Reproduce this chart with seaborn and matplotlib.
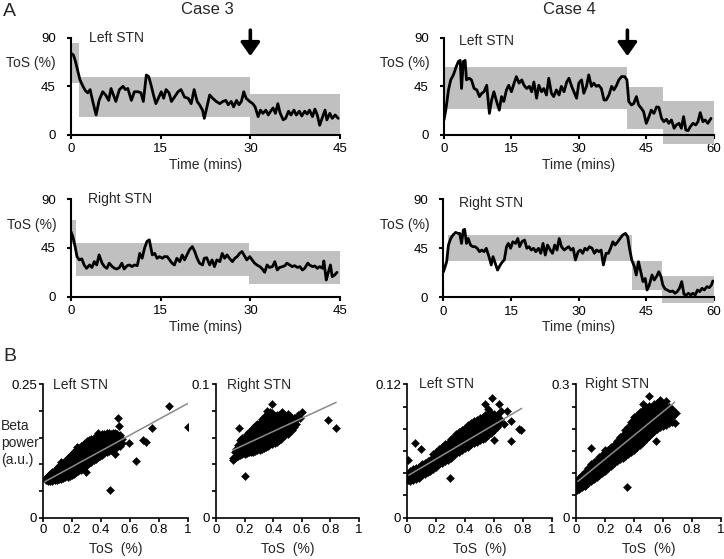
import numpy as np
import pandas as pd
import matplotlib
matplotlib.use("Agg")
import matplotlib.pyplot as plt
import seaborn as sns

# ---------------------------------------------------------------------------
# Panel A data: ToS (%) over time (mins)
# ---------------------------------------------------------------------------
c3_left_t = [0.0, 0.4, 0.7, 1.1, 1.5, 2.0, 2.4, 2.8, 3.2, 3.6,
             4.2, 4.7, 5.3, 5.8, 6.3, 6.7, 7.1, 7.5, 8.1, 8.7,
             9.1, 9.5, 10.1, 10.6, 11.2, 11.7, 12.1, 12.6, 13.0, 13.4,
             13.8, 14.2, 14.7, 15.1, 15.5, 15.9, 16.4, 16.8, 17.3, 17.9,
             18.4, 19.0, 19.6, 20.1, 20.6, 21.1, 21.5, 22.0, 22.3, 22.7,
             23.2, 23.7, 24.3, 24.9, 25.4, 25.9, 26.3, 26.8, 27.2, 27.7,
             28.1, 28.5, 28.9, 29.3, 29.9, 30.4, 30.8, 31.3, 31.7, 32.1,
             32.6, 33.0, 33.4, 33.8, 34.2, 34.6, 35.0, 35.5, 35.9, 36.4,
             36.8, 37.3, 37.7, 38.2, 38.6, 39.1, 39.5, 39.9, 40.4, 40.8,
             41.2, 41.6, 42.1, 42.5, 42.8, 43.3, 43.7, 44.2, 44.7]
c3_left_tos = [75.6, 74, 69, 60, 51, 45, 41, 39, 42, 32,
               18.5, 32, 40, 37, 32, 43, 37, 31, 42, 45,
               42, 43, 32, 40, 40, 39, 31, 55.5, 54, 46,
               37, 29, 35, 40, 34, 42, 39, 31, 35, 40,
               42, 35, 34, 29, 42, 31, 28, 23, 15.4, 25,
               37, 34, 31, 29, 31, 32, 28, 31, 26, 32,
               28, 31, 40, 34, 31, 29, 26, 17, 23, 20,
               23, 18.5, 22, 25, 20, 29, 20, 14, 15.4, 22,
               18.5, 23, 18.5, 22, 17.6, 22, 19.4, 23, 17, 24,
               18.5, 9, 17, 23, 14, 20, 15.4, 18.5, 15.4]
c3_left_epochs = [(0, 1.4, 48, 85), (1.4, 30, 16.4, 53.4), (30, 45, 0, 38)]

c3_right_t = [0.0, 0.3, 0.7, 1.0, 1.4, 1.8, 2.2, 2.6, 3.1, 3.5,
              3.9, 4.3, 4.7, 5.2, 5.6, 6.0, 6.4, 6.9, 7.3, 7.7,
              8.1, 8.5, 8.9, 9.4, 9.8, 10.2, 10.6, 11.1, 11.5, 11.9,
              12.3, 12.7, 13.1, 13.6, 14.0, 14.4, 14.8, 15.3, 15.6, 16.1,
              16.5, 16.9, 17.3, 17.7, 18.2, 18.6, 19.0, 19.4, 19.8, 20.3,
              20.7, 21.1, 21.5, 22.0, 22.3, 22.7, 23.2, 23.6, 24.0, 24.4,
              24.9, 25.3, 25.7, 26.1, 26.5, 27.0, 27.4, 27.8, 28.2, 28.6,
              29.1, 29.4, 29.9, 30.3, 30.7, 31.1, 31.6, 32.0, 32.4, 32.8,
              33.2, 33.7, 34.1, 34.5, 34.9, 35.4, 35.8, 36.1, 36.6, 37.0,
              37.4, 37.9, 38.3, 38.7, 39.1, 39.6, 39.9, 40.4, 40.8, 41.2,
              41.6, 42.1, 42.3, 42.7, 43.0, 43.4, 43.7, 44.1, 44.5]
c3_right_tos = [60, 55.6, 46, 37, 34, 35, 29.3, 26.2, 29.3, 27,
                32.4, 29.3, 38.6, 31, 27.8, 26.2, 31, 27.8, 26.2, 25.6,
                27, 31, 25.6, 28.7, 29.3, 27.8, 29.3, 28.7, 40, 35.5,
                44.8, 51, 52.5, 38.6, 40, 35.5, 37, 35.5, 37, 37,
                34, 31, 29.3, 35.5, 32.4, 38.6, 34, 38.6, 43.2, 46.3,
                41.7, 35.5, 31, 29.3, 35.5, 36, 29.3, 34, 27.8, 34,
                32.4, 40, 35.5, 38.6, 35.5, 32.4, 35.5, 37, 40, 41.7,
                37, 34, 37, 34, 31, 29.3, 27.8, 25.6, 22.5, 29.3,
                27, 27.8, 32.4, 24.7, 27, 27.8, 28.7, 31, 29.3, 27.8,
                28.7, 27, 27.8, 24.7, 26.2, 31, 29.3, 27.8, 28.4, 26.2,
                27.8, 26.2, 33, 15.4, 21.6, 29.3, 18.5, 20, 22.5]
c3_right_epochs = [(0, 0.8, 49, 71), (0.8, 29.8, 19.1, 49.3), (29.8, 45, 11.7, 42.5)]

c4_left_t = [0.0, 0.4, 1.0, 1.5, 2.1, 2.7, 3.2, 3.6, 3.9, 4.3,
             4.7, 5.0, 5.6, 6.1, 6.7, 7.3, 7.9, 8.4, 8.9, 9.5,
             10.1, 10.6, 11.1, 11.7, 12.3, 12.8, 13.3, 13.9, 14.4, 15.0,
             15.6, 16.1, 16.7, 17.3, 17.8, 18.4, 19.0, 19.5, 20.0, 20.6,
             21.1, 21.7, 22.2, 22.8, 23.3, 23.9, 24.4, 25.0, 25.6, 26.1,
             26.7, 27.3, 27.8, 28.4, 28.9, 29.5, 30.0, 30.6, 31.1, 31.7,
             32.2, 32.8, 33.3, 33.9, 34.4, 35.0, 35.6, 36.1, 36.7, 37.3,
             37.8, 38.4, 38.9, 39.5, 40.2, 40.7, 41.1, 41.7, 42.2, 42.8,
             43.3, 43.9, 44.4, 45.0, 45.6, 46.1, 46.7, 47.3, 47.8, 48.4,
             48.9, 49.5, 50.0, 50.6, 51.2, 51.7, 52.3, 52.8, 53.3, 53.8,
             54.3, 54.8, 55.4, 56.0, 56.5, 57.0, 57.6, 58.1, 58.7, 59.4]
c4_left_tos = [13.9, 23, 41.7, 51, 55.6, 63, 68, 69, 43, 68,
               69, 51, 52.5, 51, 43, 41.7, 35.5, 38.6, 40, 46,
               20, 32.4, 40, 31, 23, 35.5, 31, 41.7, 46, 40,
               48, 54, 48, 51, 46, 43, 45, 40, 49, 34,
               46, 40, 43, 37, 52.5, 38.6, 35.5, 41.7, 37, 45,
               40, 49, 52.5, 45, 40, 34, 48, 51, 38.6, 45,
               55.6, 45, 48, 45, 46, 43, 32.4, 32.4, 37, 45,
               41.7, 46, 51, 54, 54, 51, 31, 27.8, 29, 35.5,
               27.8, 24.7, 21.6, 10.8, 17, 23, 20, 26, 25.6, 15.4,
               12.3, 14.5, 10.8, 13.9, 6.2, 9.3, 10.8, 6.2, 17, 4.6,
               4, 7.7, 10.8, 9.3, 12.3, 20.7, 12.3, 13.9, 10.8, 15.4]
c4_left_epochs = [(0, 40.8, 24, 63), (40.8, 48.7, 5.5, 44.7), (48.7, 60, -8.3, 31.7)]

c4_right_t = [0.0, 0.7, 1.1, 1.6, 2.1, 2.7, 3.2, 3.6, 4.0, 4.4,
              4.7, 5.1, 5.5, 6.0, 6.5, 7.0, 7.5, 8.0, 8.5, 9.0,
              9.5, 10.1, 10.6, 11.0, 11.5, 12.0, 12.6, 13.1, 13.5, 14.0,
              14.4, 14.9, 15.4, 16.0, 16.5, 16.9, 17.4, 18.0, 18.5, 19.0,
              19.5, 20.0, 20.5, 21.1, 21.6, 22.1, 22.6, 23.1, 23.7, 24.2,
              24.7, 25.2, 25.7, 26.2, 26.8, 27.3, 27.8, 28.3, 28.8, 29.3,
              29.9, 30.4, 30.9, 31.4, 31.9, 32.4, 33.0, 33.5, 34.0, 34.5,
              35.0, 35.5, 36.1, 36.6, 37.1, 37.6, 38.1, 38.7, 39.2, 39.8,
              40.4, 40.9, 41.3, 41.8, 42.4, 42.8, 43.3, 43.8, 44.3, 44.8,
              45.2, 45.7, 46.3, 46.8, 47.3, 47.8, 48.3, 48.7, 49.2, 49.7,
              50.3, 50.9, 51.4, 51.9, 52.4, 52.9, 53.4, 53.9, 54.4, 54.9,
              55.4, 55.9, 56.4, 56.9, 57.4, 57.9, 58.5, 59.0, 59.5, 59.8]
c4_right_tos = [23.5, 32.7, 48, 54, 57.2, 59.6, 58.7, 58.7, 49.5, 61.8,
                62.4, 49.5, 54, 48, 46.5, 46.5, 45, 41.9, 43.4, 41.9,
                45, 37.3, 29.7, 37.3, 31.2, 25, 29.7, 32.7, 34.3, 46.5,
                49.5, 45, 51, 49.5, 54, 46.5, 51, 52.6, 45, 46.5,
                43.4, 45, 41.9, 45, 40.4, 49.5, 38.8, 48, 43.4, 40.4,
                48, 43.4, 54, 46.5, 43.4, 45, 46.5, 43.4, 45, 34.3,
                41.9, 43.4, 40.4, 45, 43.4, 46.5, 45, 40.4, 43.4, 41.9,
                43.4, 29.7, 40.4, 40.4, 45, 51, 48, 51, 54, 57.2,
                58.7, 55.7, 45, 34.3, 28.1, 20.5, 32.7, 23.5, 14.4, 17.4,
                6.7, 11.3, 20.5, 15.9, 19, 23.5, 19, 11.3, 7.6, 6.7,
                5.2, 5.8, 3.7, 5.2, 8.3, 14.4, 2.8, 2.1, 3.7, 2.1,
                3.7, 2.1, 6.7, 5.2, 8.3, 6.7, 9.8, 8.9, 11.3, 15]
c4_right_epochs = [(1.0, 41.9, 32.9, 57.4), (41.9, 48.6, 7.0, 32.9), (48.6, 60, -5.5, 19.7)]

# time of the arrow marker in each case (mins)
c3_arrow_t = 30
c4_arrow_t = 40.8

# ---------------------------------------------------------------------------
# Panel B data: beta power vs ToS, read column by column off the clouds
# ---------------------------------------------------------------------------
c3l_tos = [0.018, 0.033, 0.048, 0.063, 0.078, 0.093, 0.108, 0.123, 0.138, 0.153,
           0.168, 0.183, 0.198, 0.213, 0.228, 0.243, 0.258, 0.273, 0.288, 0.303,
           0.318, 0.333, 0.348, 0.363, 0.378, 0.393, 0.408, 0.423, 0.438, 0.453,
           0.468, 0.483, 0.498, 0.513, 0.528, 0.543]
c3l_beta = [[.070, .075], [.068, .074, .079], [.068, .075, .082], [.069, .077, .085],
            [.070, .078, .087], [.071, .080, .089, .093], [.072, .081, .090, .097],
            [.073, .082, .091, .100], [.075, .084, .093, .103], [.076, .086, .095, .106],
            [.077, .087, .097, .108, .112], [.078, .088, .098, .109, .116],
            [.080, .090, .100, .111, .120], [.082, .092, .103, .114, .124],
            [.085, .095, .106, .117, .127], [.088, .098, .109, .120, .131],
            [.090, .100, .111, .123, .134], [.093, .103, .114, .126, .137],
            [.096, .106, .117, .129, .140], [.099, .109, .120, .132, .143],
            [.102, .112, .123, .135, .145], [.105, .115, .126, .138, .147],
            [.108, .118, .129, .140, .149], [.110, .120, .131, .142, .151],
            [.113, .123, .134, .144, .153], [.116, .126, .137, .147, .154],
            [.118, .128, .139, .149, .156], [.121, .131, .142, .151, .157],
            [.123, .133, .144, .153, .159], [.125, .136, .146, .155, .159],
            [.127, .138, .148, .157], [.129, .140, .150, .159], [.130, .141, .151, .158],
            [.132, .143, .153, .157], [.134, .145, .155], [.140, .148]]
c3l_extra = [(.462, .0525), (.296, .085), (.497, .119), (.515, .186), (.527, .171),
             (.594, .140), (.642, .107), (.688, .146), (.711, .142), (.750, .169),
             (.873, .209), (1.0, .170), (.120, .104), (.230, .132), (.380, .158)]
c3l_fit = (0.066, 0.148, 0.01, 1.0)   # intercept, slope, x from, x to

c3r_tos = [0.120, 0.130, 0.140, 0.155, 0.170, 0.185, 0.200, 0.215, 0.230, 0.245,
           0.260, 0.275, 0.290, 0.305, 0.320, 0.335, 0.350, 0.365, 0.380, 0.395,
           0.410, 0.425, 0.440, 0.455, 0.470, 0.485, 0.500, 0.515, 0.530, 0.545, 0.560]
c3r_beta = [[.0435, .0445], [.045, .049], [.046, .050, .0515], [.0465, .0505, .0545],
            [.047, .051, .055, .058], [.0475, .0515, .0555, .0595], [.048, .052, .056, .060],
            [.0485, .0525, .0565, .0605, .0625], [.049, .053, .057, .061, .064],
            [.049, .053, .057, .061, .065], [.0495, .0535, .0575, .0615, .0655, .067],
            [.050, .054, .058, .062, .066, .069], [.0505, .0545, .0585, .0625, .0665, .0705],
            [.051, .055, .059, .063, .067, .071], [.0515, .0555, .0595, .0635, .0675, .0715, .074],
            [.052, .056, .060, .064, .068, .072, .075], [.053, .057, .061, .065, .069, .073, .077],
            [.054, .058, .062, .066, .070, .074, .078], [.055, .059, .063, .067, .071, .075, .079],
            [.0555, .0595, .0635, .0675, .0715, .0755, .0785], [.056, .060, .064, .068, .072, .076],
            [.057, .061, .065, .069, .073, .077], [.058, .062, .066, .070, .074, .077],
            [.059, .063, .067, .071, .075], [.061, .065, .069, .073, .077],
            [.062, .066, .070, .074], [.063, .067, .071, .075], [.065, .069, .073, .076],
            [.066, .070, .074], [.068, .072, .075], [.070, .074]]
c3r_extra = [(.203, .031), (.163, .067), (.389, .085), (.354, .080), (.460, .079),
             (.506, .078), (.570, .077), (.600, .079), (.590, .075), (.786, .073), (.840, .067)]
c3r_fit = (0.0448, 0.0496, 0.12, 0.84)

c4l_tos = [0.005, 0.02, 0.04, 0.06, 0.08, 0.10, 0.12, 0.14, 0.16, 0.18,
           0.20, 0.22, 0.24, 0.26, 0.28, 0.30, 0.32, 0.34, 0.36, 0.38,
           0.40, 0.42, 0.44, 0.46, 0.48, 0.50, 0.52, 0.54, 0.56, 0.58,
           0.60, 0.62, 0.64]
c4l_beta = [[.034, .039], [.033, .037, .042], [.034, .039, .044], [.035, .040, .045],
            [.036, .041, .046], [.038, .043, .048], [.039, .044, .049], [.041, .046, .051],
            [.042, .047, .052], [.044, .049, .054, .057], [.046, .051, .056, .059],
            [.048, .053, .058, .062], [.049, .054, .059, .064], [.051, .056, .061, .066],
            [.052, .057, .062, .067], [.054, .059, .064, .069, .071],
            [.056, .061, .066, .071, .073], [.058, .063, .068, .073, .075],
            [.059, .064, .069, .074, .077], [.061, .066, .071, .076, .079],
            [.063, .068, .073, .078, .081], [.064, .069, .074, .079, .083],
            [.066, .071, .076, .081, .085], [.067, .072, .077, .082, .087],
            [.068, .073, .078, .083, .088], [.070, .075, .080, .085, .090],
            [.071, .076, .081, .086, .091], [.072, .077, .082, .087, .092],
            [.074, .079, .084, .089, .093], [.076, .081, .086, .091, .094],
            [.079, .084, .089, .093], [.082, .087, .092], [.085, .089]]
c4l_extra = [(.005, .052), (.051, .067), (.092, .062), (.293, .0357), (.537, .102),
             (.587, .108), (.634, .102), (.691, .096), (.714, .087), (.783, .079),
             (.775, .080), (.600, .070), (.668, .084), (.720, .069), (.650, .096), (.560, .098)]
c4l_fit = (0.0375, 0.077, 0.01, 0.79)

c4r_tos = [0.005, 0.02, 0.04, 0.06, 0.08, 0.10, 0.12, 0.14, 0.16, 0.18,
           0.20, 0.22, 0.24, 0.26, 0.28, 0.30, 0.32, 0.34, 0.36, 0.38,
           0.40, 0.42, 0.44, 0.46, 0.48, 0.50, 0.52, 0.54, 0.56, 0.58,
           0.60, 0.62, 0.64, 0.66]
c4r_beta = [[.063, .072, .080], [.064, .073, .083, .090], [.068, .077, .087, .095],
            [.072, .082, .092, .102], [.077, .087, .097, .107, .112],
            [.082, .092, .102, .112, .120], [.087, .097, .107, .117, .126],
            [.091, .101, .111, .121, .130], [.096, .106, .116, .126, .136],
            [.101, .111, .121, .131, .141], [.106, .116, .126, .136, .146],
            [.111, .121, .131, .141, .152], [.116, .126, .136, .146, .158],
            [.122, .132, .142, .152, .164], [.127, .137, .147, .157, .167, .172],
            [.131, .141, .151, .161, .171, .181], [.135, .145, .155, .165, .175, .187],
            [.139, .149, .159, .169, .179, .189, .198],
            [.143, .153, .163, .173, .183, .193, .205],
            [.148, .158, .168, .178, .188, .198, .208, .216],
            [.153, .163, .173, .183, .193, .203, .213, .226],
            [.158, .168, .178, .188, .198, .208, .218, .232],
            [.164, .174, .184, .194, .204, .214, .224, .238],
            [.170, .180, .190, .200, .210, .220, .230, .243],
            [.177, .187, .197, .207, .217, .227, .237, .248],
            [.183, .193, .203, .213, .223, .233, .243, .251],
            [.190, .200, .210, .220, .230, .240, .250],
            [.195, .205, .215, .225, .235, .245, .255],
            [.199, .209, .219, .229, .239, .249, .257],
            [.203, .213, .223, .233, .243, .253], [.207, .217, .227, .237, .247, .255],
            [.209, .219, .229, .239, .249], [.212, .222, .232, .242, .250],
            [.216, .226, .236, .244]]
c4r_extra = [(.100, .157), (.348, .069), (.502, .273), (.198, .153), (.548, .172),
             (.680, .213), (.690, .235), (.620, .262), (.580, .265), (.460, .255)]
c4r_fit = (0.079, 0.266, 0.01, 0.68)

# ---------------------------------------------------------------------------
# Style
# ---------------------------------------------------------------------------
sns.set_style("ticks")
plt.rcParams["font.family"] = ["Liberation Sans", "DejaVu Sans"]
plt.rcParams["axes.edgecolor"] = "black"
plt.rcParams["xtick.color"] = "black"
plt.rcParams["ytick.color"] = "black"

_W, _H = 724, 559
_BOX = "#c0c0c0"
_FIT = "#8a8a8a"

fig = plt.figure(figsize=(_W / 100, _H / 100), dpi=100)


def px_axes(x0, x1, ytop, ybot):
    """Axes placed by pixel edges (top-left origin)."""
    return fig.add_axes([x0 / _W, 1 - ybot / _H, (x1 - x0) / _W, (ybot - ytop) / _H])


def px_text(x, y, s, size=10, ha="left", **kw):
    fig.text(x / _W, 1 - y / _H, s, fontsize=size, ha=ha, va="center", **kw)


def plot_tos(ax, t, tos, epochs, xmax, arrow_t=None):
    for t0, t1, lo, hi in epochs:
        ax.fill_between([t0, t1], lo, hi, color=_BOX, lw=0, zorder=1)
    df = pd.DataFrame({"t": t, "tos": tos})
    sns.lineplot(data=df, x="t", y="tos", ax=ax, color="black", lw=2.0,
                 estimator=None, sort=False, zorder=3)
    ax.set_xlim(0, xmax)
    ax.set_ylim(-10, 90)
    for side in ("top", "right"):
        ax.spines[side].set_visible(False)
    ax.spines["bottom"].set_position(("data", 0))
    ax.spines["left"].set_bounds(0, 90)
    for side in ("bottom", "left"):
        ax.spines[side].set_linewidth(1.5)
        ax.spines[side].set_zorder(4)
    ax.set_xticks(np.arange(0, xmax + 1, 15))
    ax.set_yticks([0, 45, 90])
    ax.tick_params(axis="both", direction="out", length=3, width=1.5, labelsize=9.5)
    ax.tick_params(axis="y", pad=8)
    ax.tick_params(axis="x", pad=3)
    ax.set_xlabel("Time (mins)", fontsize=10, labelpad=2)
    ax.set_ylabel("")
    if arrow_t is not None:
        ax.annotate("", xy=(arrow_t, 73), xytext=(arrow_t, 97),
                    arrowprops=dict(arrowstyle="-|>,head_length=0.45,head_width=0.32",
                                    mutation_scale=18, lw=2.6, color="black",
                                    shrinkA=0, shrinkB=0),
                    annotation_clip=False)


def plot_beta(ax, tos, beta, extra, fit, ytop, ystep, toplabel):
    rows = [(x, y) for x, col in zip(tos, beta) for y in col] + list(extra)
    df = pd.DataFrame(rows, columns=["tos", "beta"])
    sns.scatterplot(data=df, x="tos", y="beta", ax=ax, marker="D", s=17,
                    color="black", edgecolor="black", linewidth=0.3, zorder=2)
    b0, b1, x0, x1 = fit
    fit_df = pd.DataFrame({"tos": [x0, x1], "beta": [b0 + b1 * x0, b0 + b1 * x1]})
    sns.lineplot(data=fit_df, x="tos", y="beta", ax=ax, color=_FIT, lw=1.1, zorder=3)
    ax.set_xlim(0, 1)
    ax.set_ylim(0, ytop)
    for side in ("top", "right"):
        ax.spines[side].set_visible(False)
    for side in ("bottom", "left"):
        ax.spines[side].set_linewidth(1.2)
    ax.set_xticks([0, 0.2, 0.4, 0.6, 0.8, 1.0])
    ax.set_xticklabels(["0", "0.2", "0.4", "0.6", "0.8", "1"])
    n = int(round(ytop / ystep))
    yt = [ystep * i for i in range(n + 1)]
    ax.set_yticks(yt)
    ax.set_yticklabels(["0"] + [""] * (n - 1) + [toplabel])
    ax.tick_params(axis="both", direction="out", length=3, width=1.2, labelsize=9.5)
    ax.tick_params(axis="y", pad=1.5)
    ax.tick_params(axis="x", pad=1.5)
    ax.set_xlabel("ToS  (%)", fontsize=10, labelpad=4)
    ax.set_ylabel("")


# ---------------------------------------------------------------------------
# Panel A
# ---------------------------------------------------------------------------
ax = px_axes(71, 340, 37.7, 145.8)
plot_tos(ax, c3_left_t, c3_left_tos, c3_left_epochs, 45, c3_arrow_t)
ax = px_axes(444, 713.7, 37.7, 145.8)
plot_tos(ax, c4_left_t, c4_left_tos, c4_left_epochs, 60, c4_arrow_t)
ax = px_axes(71, 340, 199.3, 307.5)
plot_tos(ax, c3_right_t, c3_right_tos, c3_right_epochs, 45)
ax = px_axes(443.5, 713.7, 199.3, 308.2)
plot_tos(ax, c4_right_t, c4_right_tos, c4_right_epochs, 60)

px_text(3, 11.5, "A", size=14)
px_text(207.5, 10, "Case 3", size=12, ha="center")
px_text(569.5, 10, "Case 4", size=12, ha="center")
px_text(89, 37.5, "Left STN")
px_text(459, 41, "Left STN")
px_text(88, 199.5, "Right STN")
px_text(459, 202.8, "Right STN")
for x, y in [(6, 62.5), (380, 62.8), (7, 225), (380, 224.7)]:
    px_text(x, y, "ToS (%)")

# ---------------------------------------------------------------------------
# Panel B
# ---------------------------------------------------------------------------
ax = px_axes(43.3, 187.7, 384.3, 517.7)
plot_beta(ax, c3l_tos, c3l_beta, c3l_extra, c3l_fit, 0.25, 0.05, "0.25")
ax = px_axes(216, 359, 384.3, 517.7)
plot_beta(ax, c3r_tos, c3r_beta, c3r_extra, c3r_fit, 0.1, 0.02, "0.1")
ax = px_axes(407.3, 552, 384.3, 517.7)
plot_beta(ax, c4l_tos, c4l_beta, c4l_extra, c4l_fit, 0.12, 0.02, "0.12")
ax = px_axes(576.3, 721, 384.3, 517.7)
plot_beta(ax, c4r_tos, c4r_beta, c4r_extra, c4r_fit, 0.3, 0.05, "0.3")

px_text(3, 356.7, "B", size=14)
px_text(53, 385, "Left STN")
px_text(227, 385, "Right STN")
px_text(419, 384, "Left STN")
px_text(585, 384, "Right STN")
px_text(1, 443, "Beta\npower\n(a.u.)", linespacing=1.25)

fig.savefig("out.png", dpi=100)
plt.close(fig)
